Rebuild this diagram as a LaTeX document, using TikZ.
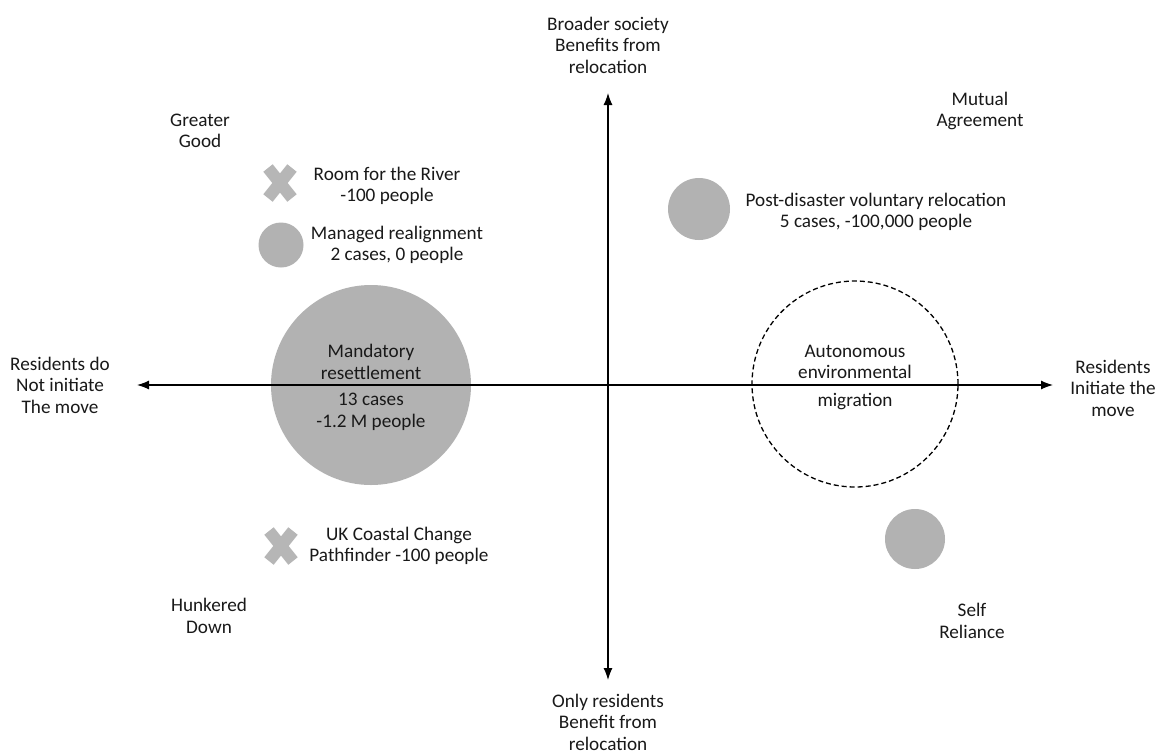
\documentclass[tikz,border=0pt]{standalone}
\usepackage{fontspec}
\setmainfont{Carlito}
\usetikzlibrary{arrows.meta,calc}
\definecolor{blobgray}{RGB}{178,178,178}
\definecolor{crossgray}{RGB}{182,182,182}
\tikzset{
  lbl/.style={align=center, font=\fontsize{19.2}{21.5}\selectfont, text=black!90, inner sep=0pt},
  blob/.style={circle, fill=blobgray, draw=none, inner sep=0pt},
  axisline/.style={line width=1.2pt, -{Latex[length=12pt,width=9pt]}},
  xmark/.style={line width=12pt, crossgray},
}
\begin{document}
\begin{tikzpicture}[x=1pt,y=-1pt]
\useasboundingbox (0,0) rectangle (1159,753);
\fill[white] (0,0) rectangle (1159,753);
% circles
\node[blob, minimum size=200pt] (mand) at (371,385) {};
\node[blob, minimum size=62pt] (post) at (699,209) {};
\node[blob, minimum size=45pt] (man) at (281,245) {};
\node[blob, minimum size=60pt] (self) at (915,539) {};
\node[circle, draw, line width=1.3pt, dash pattern=on 5pt off 3pt, minimum size=206pt, inner sep=0pt] (auto) at (855,384) {};
% crosses
\coordinate (x1) at (280,183);
\draw[xmark] ($(x1)+(-12,-15)$) -- ($(x1)+(12,15)$) ($(x1)+(-12,15)$) -- ($(x1)+(12,-15)$);
\coordinate (x2) at (281,546);
\draw[xmark] ($(x2)+(-12,-15)$) -- ($(x2)+(12,15)$) ($(x2)+(-12,15)$) -- ($(x2)+(12,-15)$);
% axes
\coordinate (c) at (608,385);
\coordinate (l) at (137,385);
\coordinate (r) at (1053,385);
\coordinate (t) at (608,93);
\coordinate (b) at (608,680);
\draw[axisline] (c) -- (l);
\draw[axisline] (c) -- (r);
\draw[axisline] (c) -- (t);
\draw[axisline] (c) -- (b);
% labels
\node[lbl] (lt) at (608,45) {Broader society\\Benefits from\\relocation};
\node[lbl] (lb) at (608,722) {Only residents\\Benefit from\\relocation};
\node[lbl] (ll) at (60,385) {Residents do\\Not initiate\\The move};
\node[lbl] (lr) at (1113,388) {Residents\\Initiate the\\move};
\node[lbl] (gg) at (200,131) {Greater\\Good};
\node[lbl] (hd) at (209,616) {Hunkered\\Down};
\node[lbl] (ma) at (980,111) {Mutual\\Agreement};
\node[lbl] (sr) at (972,621) {Self\\Reliance};
\node[lbl] (rr) at (387,186) {Room for the River\\-100 people};
\node[lbl] (mr) at (397,245) {Managed realignment\\2 cases, 0 people};
\node[lbl] (uk) at (399,546) {UK Coastal Change\\Pathfinder -100 people};
\node[lbl] (pd) at (876,212) {Post-disaster voluntary relocation\\5 cases, -100,000 people};
\node[lbl] (mt) at (371,362) {Mandatory\\resettlement};
\node[lbl] (mc) at (371,412) {13 cases\\-1.2 M people};
\node[lbl] (at) at (855,362) {Autonomous\\environmental};
\node[lbl] (at2) at (855,402) {migration};
\end{tikzpicture}
\end{document}
